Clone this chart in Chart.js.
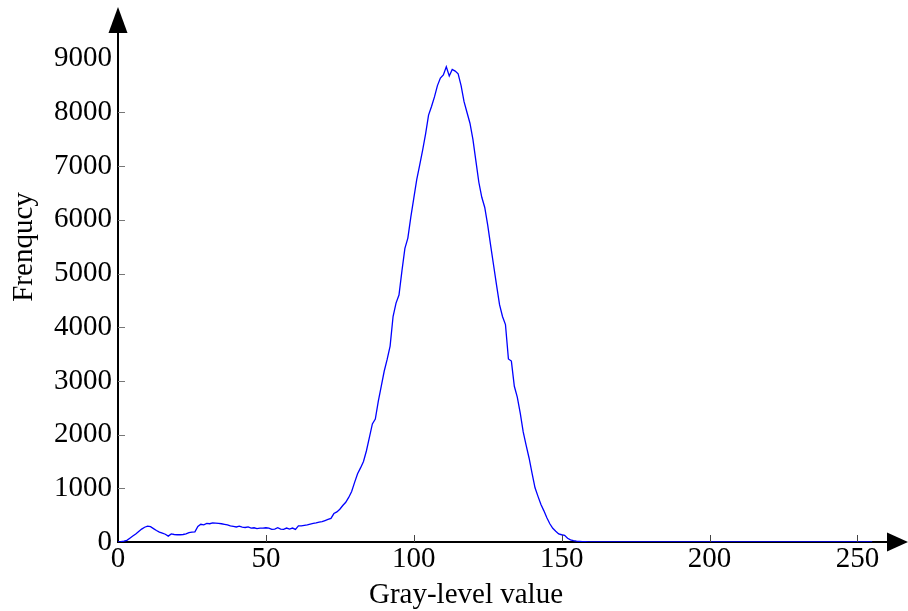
<!DOCTYPE html>
<html>
<head>
<meta charset="utf-8">
<script src="https://cdn.jsdelivr.net/npm/chart.js@4.4.0/dist/chart.umd.min.js"></script>
<style>
    body { margin: 0; background: #fff; }
    #wrap { width: 908px; height: 611px; position: relative; }
</style>
</head>
<body>
<div id="wrap"><canvas id="histChart"></canvas></div>
<script>
// gray levels 0..255 and the pixel count at each
const grayLevels = Array.from({ length: 256 }, (_, i) => i);

const frequency = [
    0, 5, 15, 30, 70, 110, 150, 195, 240, 275,
    295, 285, 250, 215, 185, 165, 145, 110, 150, 140,
    135, 135, 140, 150, 175, 185, 190, 290, 330, 320,
    345, 340, 355, 350, 345, 340, 330, 320, 300, 290,
    280, 295, 275, 270, 280, 260, 265, 250, 260, 260,
    265, 260, 235, 240, 265, 240, 235, 260, 240, 260,
    235, 300, 300, 310, 320, 335, 345, 355, 370, 380,
    400, 420, 440, 530, 560, 610, 680, 740, 830, 940,
    1110, 1270, 1380, 1500, 1700, 1950, 2200, 2290, 2620, 2900,
    3180, 3400, 3650, 4200, 4450, 4600, 5050, 5470, 5660, 6050,
    6400, 6750, 7020, 7300, 7600, 7950, 8110, 8290, 8500, 8640,
    8700, 8850, 8680, 8800, 8770, 8720, 8500, 8200, 8000, 7800,
    7500, 7100, 6700, 6420, 6230, 5900, 5520, 5150, 4780, 4420,
    4200, 4050, 3410, 3370, 2900, 2700, 2400, 2050, 1800, 1560,
    1280, 1010, 850, 700, 580, 450, 340, 255, 200, 150,
    135, 125, 70, 40, 27, 18, 13, 8, 5, 3,
    0, 0, 0, 0, 0, 0, 0, 0, 0, 0,
    0, 0, 0, 0, 0, 0, 0, 0, 0, 0,
    0, 0, 0, 0, 0, 0, 0, 0, 0, 0,
    0, 0, 0, 0, 0, 0, 0, 0, 0, 0,
    0, 0, 0, 0, 0, 0, 0, 0, 0, 0,
    0, 0, 0, 0, 0, 0, 0, 0, 0, 0,
    0, 0, 0, 0, 0, 0, 0, 0, 0, 0,
    0, 0, 0, 0, 0, 0, 0, 0, 0, 0,
    0, 0, 0, 0, 0, 0, 0, 0, 0, 0,
    0, 0, 0, 0, 0, 0
];

const xTicks = [0, 50, 100, 150, 200, 250];
const yTicks = [0, 1000, 2000, 3000, 4000, 5000, 6000, 7000, 8000, 9000];

const xTitle = "Gray-level value";
const yTitle = "Frenqucy";

const serif = "'Liberation Serif', 'DejaVu Serif', serif";

const points = grayLevels.map((g, i) => ({ x: g, y: frequency[i] }));

// inward tick marks, arrow heads and the two axis titles
const axisDecor = {
    id: "axisDecor",
    afterDraw(chart) {
        const ctx = chart.ctx;
        const area = chart.chartArea;
        const xs = chart.scales.x;
        const ys = chart.scales.y;

        ctx.save();
        ctx.lineWidth = 1;
        ctx.strokeStyle = "#444";
        xTicks.slice(1).forEach(v => {
            const px = Math.round(xs.getPixelForValue(v)) + 0.5;
            ctx.beginPath();
            ctx.moveTo(px, area.bottom);
            ctx.lineTo(px, area.bottom - 7);
            ctx.stroke();
        });
        ctx.strokeStyle = "#777";
        yTicks.slice(1, -1).forEach(v => {
            const py = Math.round(ys.getPixelForValue(v)) + 0.5;
            ctx.beginPath();
            ctx.moveTo(area.left, py);
            ctx.lineTo(area.left + 7, py);
            ctx.stroke();
        });

        ctx.fillStyle = "#000";
        ctx.beginPath();
        ctx.moveTo(area.left, area.top - 26);
        ctx.lineTo(area.left - 9.5, area.top);
        ctx.lineTo(area.left + 9.5, area.top);
        ctx.closePath();
        ctx.fill();

        ctx.beginPath();
        ctx.moveTo(area.right + 21, area.bottom);
        ctx.lineTo(area.right, area.bottom - 9.5);
        ctx.lineTo(area.right, area.bottom + 9.5);
        ctx.closePath();
        ctx.fill();

        ctx.font = "29px " + serif;
        ctx.textAlign = "center";
        ctx.textBaseline = "alphabetic";
        ctx.fillText(xTitle, 466, 603);

        ctx.translate(32, 247);
        ctx.rotate(-Math.PI / 2);
        ctx.fillText(yTitle, 0, 0);
        ctx.restore();
    }
};

const histCtx = document.getElementById("histChart").getContext("2d");

const histChart = new Chart(histCtx, {
    type: "line",
    data: {
        datasets: [
            {
                label: "Frequency",
                data: points,
                borderColor: "rgb(0, 0, 255)",
                borderWidth: 1.3,
                pointRadius: 0,
                tension: 0,
                fill: false,
            },
        ],
    },
    options: {
        responsive: true,
        maintainAspectRatio: false,
        animation: false,
        layout: { padding: { left: 0, right: 21, top: 33, bottom: 0 } },
        plugins: {
            legend: { display: false },
            tooltip: { enabled: false },
        },
        scales: {
            x: {
                type: "linear",
                min: 0,
                max: 260,
                grid: { display: false, drawTicks: false },
                border: { display: true, color: "#000", width: 2 },
                afterFit: (scale) => { scale.height = 69; },
                afterBuildTicks: (scale) => { scale.ticks = xTicks.map(v => ({ value: v })); },
                ticks: {
                    padding: 0,
                    color: "#000",
                    maxRotation: 0,
                    font: { family: serif, size: 29 },
                    callback: (v) => String(v),
                },
            },
            y: {
                min: 0,
                max: 9480,
                grid: { display: false, drawTicks: false },
                border: { display: true, color: "#000", width: 2 },
                afterFit: (scale) => { scale.width = 118; },
                afterBuildTicks: (scale) => { scale.ticks = yTicks.map(v => ({ value: v })); },
                ticks: {
                    padding: 6,
                    color: "#000",
                    font: { family: serif, size: 29 },
                    callback: (v) => String(v),
                },
            },
        },
    },
    plugins: [axisDecor],
});
</script>
</body>
</html>
